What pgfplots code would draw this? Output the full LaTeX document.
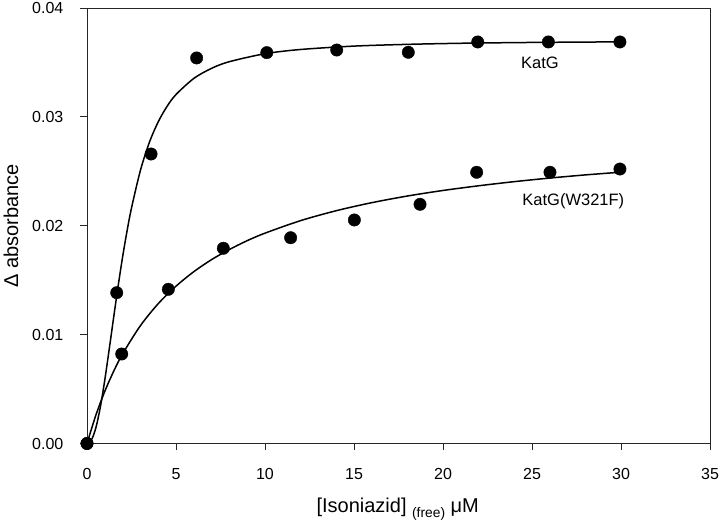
\documentclass[border=0pt]{standalone}
\usepackage{fontspec}
\setmainfont{Liberation Sans}
\usepackage{pgfplots}
\pgfplotsset{compat=1.18}

\newcommand{\lblfont}{\fontsize{20}{24}\selectfont}
\newcommand{\tkfont}{\fontsize{16}{19}\selectfont}

\begin{document}
\begin{tikzpicture}
\begin{axis}[
  scale only axis,
  width=623pt,
  height=435.5pt,
  xmin=0, xmax=35,
  ymin=0, ymax=0.04,
  xtick={0,5,...,35},
  ytick={0,0.01,0.02,0.03,0.04},
  scaled y ticks=false,
  yticklabel style={/pgf/number format/fixed, /pgf/number format/fixed zerofill, /pgf/number format/precision=2},
  /pgf/number format/assume math mode=true,
  tick label style={font=\tkfont, inner sep=0pt},
  xticklabel style={anchor=north, yshift=-18.5pt},
  yticklabel style={anchor=east, xshift=-17pt},
  tick align=outside,
  tick pos=left,
  major tick length=6.5pt,
  axis line style={black!85, line width=0.9pt},
  every tick/.style={black!85, line width=0.9pt},
  clip=false,
  xlabel={[Isoniazid]\ \raisebox{-5pt}{\fontsize{13.8}{16}\selectfont (free)}\ μM},
  ylabel={Δ absorbance},
  label style={font=\lblfont},
  xlabel style={at={(rel axis cs:0.4987,-0.1591)}, anchor=base},
  ylabel style={at={(rel axis cs:-0.122,0.5)}, anchor=center},
]
% invisible frame giving the picture its size
\path (rel axis cs:-0.13965,-0.18944) rectangle (rel axis cs:1.01605,1.01837);

% KatG fitted curve
\addplot[black, line width=1.5pt, smooth] coordinates {
(0,0) (0.25,0.00033) (0.5,0.00145) (0.75,0.00335) (1.0,0.00584) (1.25,0.00868)
(1.5,0.01161) (1.75,0.01447) (2.0,0.01713) (2.25,0.01952) (2.5,0.02163)
(3.0,0.02508) (3.5,0.02764) (4.0,0.02954) (4.5,0.03097) (5,0.03205)
(6,0.03353) (7,0.03446) (8,0.03507) (10,0.03580) (12,0.03619) (15,0.03650)
(18,0.03666) (21,0.03676) (24,0.03682) (27,0.03686) (30,0.03689)
};
% KatG(W321F) fitted curve
\addplot[black, line width=1.5pt, smooth] coordinates {
(0,0) (0.5,0.00261) (1,0.00479) (1.5,0.00664) (2,0.00823) (3,0.01082)
(4,0.01284) (5,0.01445) (6,0.01578) (7,0.01689) (8,0.01782) (9,0.01863)
(10,0.01932) (12,0.02047) (14,0.02138) (16,0.02212) (18,0.02273)
(20,0.02324) (22,0.02367) (24,0.02405) (26,0.02438) (28,0.02467) (30,0.02492)
};
% KatG data
\addplot[only marks, mark=*, mark size=6.2pt, black] coordinates {
(0,0) (1.67,0.01385) (3.60,0.02659) (6.16,0.03541) (10.10,0.03590)
(14.03,0.03614) (18.05,0.03593) (21.95,0.03688) (25.92,0.03688) (29.94,0.03688)
};
% KatG(W321F) data
\addplot[only marks, mark=*, mark size=6.2pt, black] coordinates {
(0,0) (1.95,0.00822) (4.57,0.01416) (7.66,0.01793) (11.44,0.01890)
(15.02,0.02053) (18.71,0.02197) (21.89,0.02491) (26.01,0.02491) (29.94,0.02521)
};

\node[font=\fontsize{16.5}{19}\selectfont, inner sep=0pt] at (axis cs:25.45,0.0350) {KatG};
\node[font=\fontsize{16.5}{19}\selectfont, inner sep=0pt] at (axis cs:27.32,0.02227) {KatG(W321F)};
\end{axis}
\end{tikzpicture}
\end{document}
